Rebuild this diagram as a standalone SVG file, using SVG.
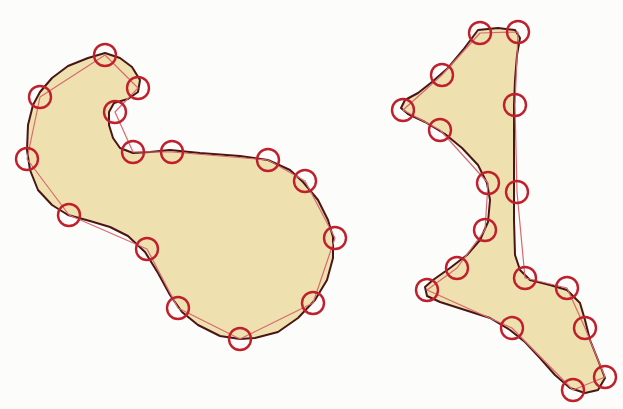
<svg xmlns="http://www.w3.org/2000/svg" width="623" height="409" viewBox="0 0 623 409">
<style>
.shape{fill:#eee1af;stroke:#4a1515;stroke-width:2;stroke-linejoin:round}
.poly{fill:none;stroke:#d9696e;stroke-width:1.2;stroke-linejoin:round}
.pt{fill:none;stroke:#c11f2b;stroke-width:2.4}
</style>
<rect width="623" height="409" fill="#fcfcfa"/>
<g id="left-shape">
<path class="shape" d="M88,58 L105,53 L120,58 L132,67 L140,80 L138,92 L128,99 L114,103 L109,112 L109,125 L113,138 L120,148 L133,153 L150,152 L170,150 L200,153 L240,156 L268,160 L290,170 L303,182 L318,200 L328,220 L333,237 L333,258 L327,280 L315,300 L298,318 L278,332 L255,338 L240,339 L220,336 L198,325 L182,312 L170,295 L158,273 L145,252 L128,236 L110,227 L90,221 L68,215 L52,205 L38,190 L30,170 L27,150 L28,125 L33,105 L40,92 L52,78 L68,66 Z"/>
<polygon class="poly" points="105,55 138,88 115,112 133,152 172,152 268,160 305,181 335,238 313,303 240,339 178,308 147,249 69,215 27,159 40,97"/>
<g>
<circle class="pt" cx="105" cy="55" r="11"/>
<circle class="pt" cx="138" cy="88" r="11"/>
<circle class="pt" cx="115" cy="112" r="11"/>
<circle class="pt" cx="133" cy="152" r="11"/>
<circle class="pt" cx="172" cy="152" r="11"/>
<circle class="pt" cx="268" cy="160" r="11"/>
<circle class="pt" cx="305" cy="181" r="11"/>
<circle class="pt" cx="335" cy="238" r="11"/>
<circle class="pt" cx="313" cy="303" r="11"/>
<circle class="pt" cx="240" cy="339" r="11"/>
<circle class="pt" cx="178" cy="308" r="11"/>
<circle class="pt" cx="147" cy="249" r="11"/>
<circle class="pt" cx="69" cy="215" r="11"/>
<circle class="pt" cx="27" cy="159" r="11"/>
<circle class="pt" cx="40" cy="97" r="11"/>
</g>
</g>
<g id="right-shape">
<path class="shape" d="M478,30 L498,28 L515,30 L520,38 L517,55 L515,80 L514,105 L514,140 L514,180 L514,220 L515,255 L520,270 L530,280 L550,285 L567,290 L580,303 L585,320 L590,340 L598,360 L605,378 L598,390 L585,393 L570,388 L555,375 L540,358 L525,342 L510,330 L490,318 L465,310 L440,302 L427,296 L425,287 L433,280 L450,268 L467,255 L480,240 L488,222 L490,200 L487,183 L478,165 L462,148 L445,134 L425,122 L408,114 L401,108 L405,100 L418,93 L432,82 L448,68 L463,50 Z"/>
<polygon class="poly" points="480,33 518,32 515,105 517,192 525,278 567,288 585,328 605,377 573,390 512,328 427,290 457,268 485,230 488,183 440,130 403,110 442,75"/>
<g>
<circle class="pt" cx="480" cy="33" r="11"/>
<circle class="pt" cx="518" cy="32" r="11"/>
<circle class="pt" cx="515" cy="105" r="11"/>
<circle class="pt" cx="517" cy="192" r="11"/>
<circle class="pt" cx="525" cy="278" r="11"/>
<circle class="pt" cx="567" cy="288" r="11"/>
<circle class="pt" cx="585" cy="328" r="11"/>
<circle class="pt" cx="605" cy="377" r="11"/>
<circle class="pt" cx="573" cy="390" r="11"/>
<circle class="pt" cx="512" cy="328" r="11"/>
<circle class="pt" cx="427" cy="290" r="11"/>
<circle class="pt" cx="457" cy="268" r="11"/>
<circle class="pt" cx="485" cy="230" r="11"/>
<circle class="pt" cx="488" cy="183" r="11"/>
<circle class="pt" cx="440" cy="130" r="11"/>
<circle class="pt" cx="403" cy="110" r="11"/>
<circle class="pt" cx="442" cy="75" r="11"/>
</g>
</g>
</svg>
